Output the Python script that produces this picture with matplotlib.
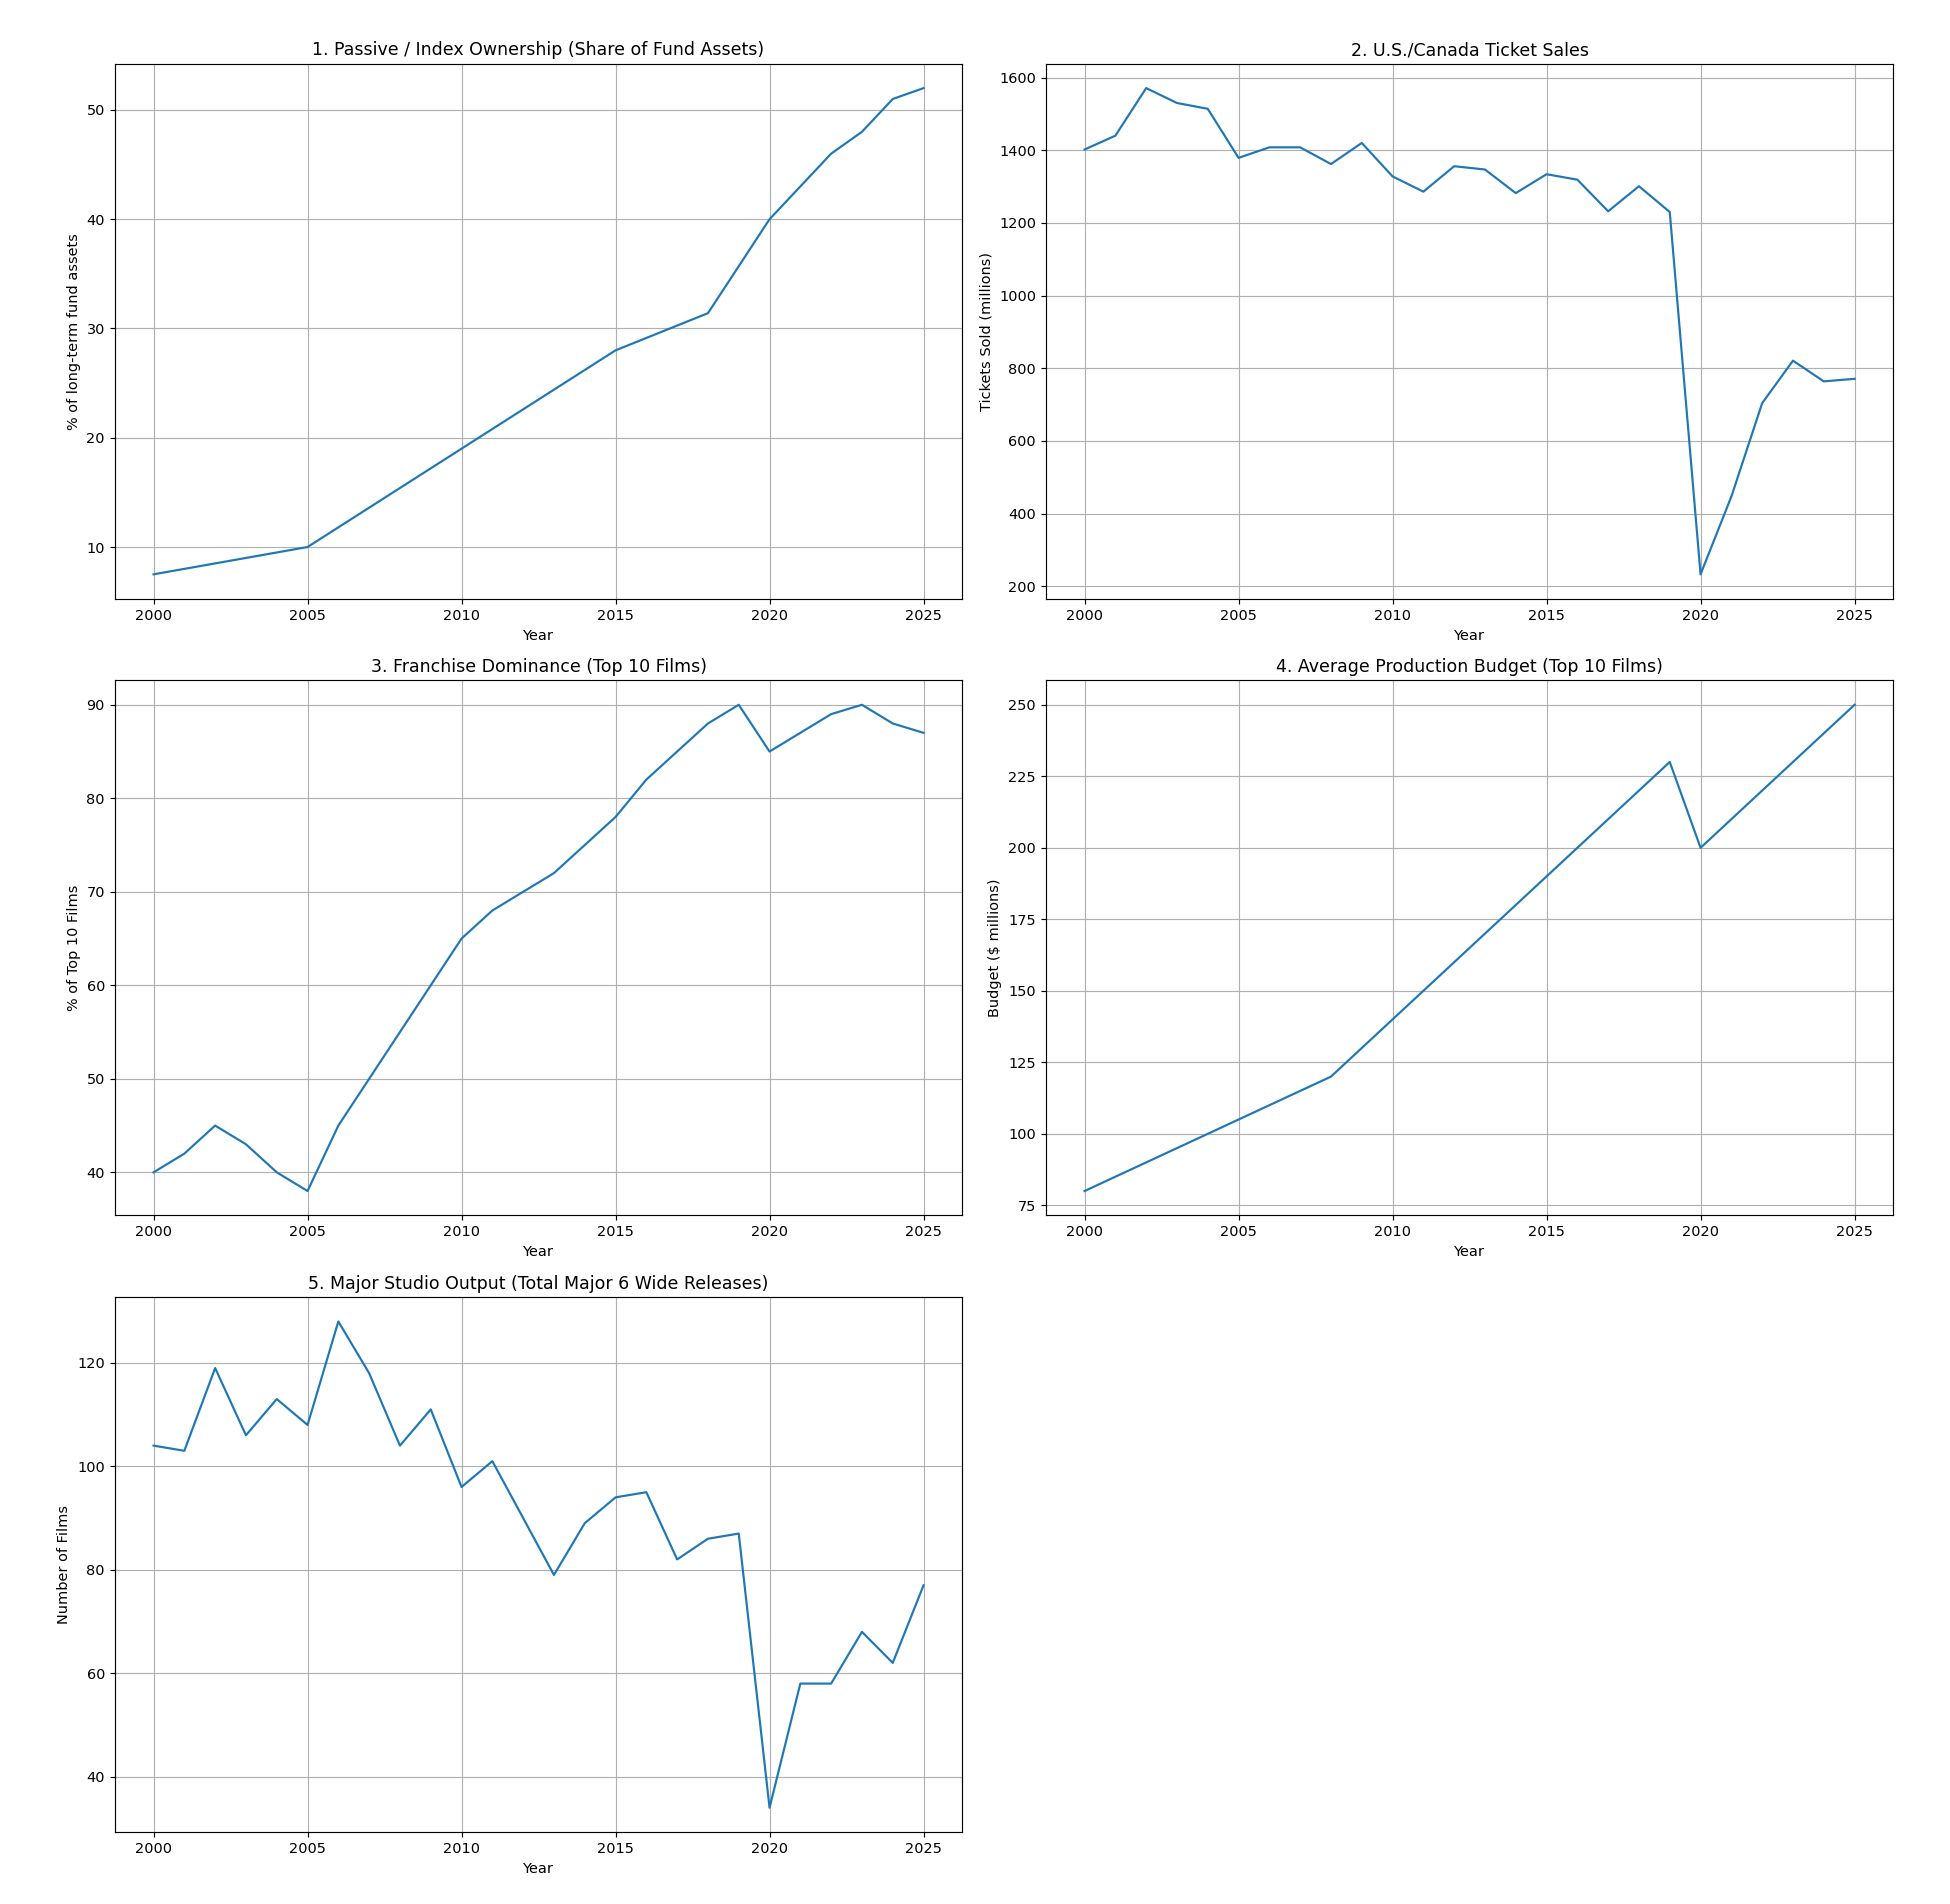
import numpy as np
import matplotlib
matplotlib.use("Agg")
import matplotlib.pyplot as plt

# 1. Passive / index share of long-term fund assets (%)
passive_years = [2000, 2005, 2010, 2015, 2018, 2020, 2022, 2023, 2024, 2025]
passive_share = [7.5, 10, 19, 28, 31.4, 40, 46, 48, 51, 52]

# 2. U.S./Canada tickets sold (millions)
ticket_years = list(range(2000, 2026))
tickets_sold = [1402, 1440, 1571, 1530, 1514, 1379, 1408, 1408, 1362, 1420,
                1328, 1286, 1356, 1347, 1282, 1334, 1319, 1232, 1301, 1230,
                233, 447, 704, 821, 764, 771]

# 3. Franchise share of top 10 films (%)
franchise_years = list(range(2000, 2026))
franchise_share = [40, 42, 45, 43, 40, 38, 45, 50, 55, 60,
                   65, 68, 70, 72, 75, 78, 82, 85, 88, 90,
                   85, 87, 89, 90, 88, 87]

# 4. Average production budget of top 10 films ($ millions)
budget_years = [2000, 2008, 2019, 2020, 2025]
avg_budget = [80, 120, 230, 200, 250]

# 5. Total wide releases from the major 6 studios
studio_years = list(range(2000, 2026))
studio_releases = [104, 103, 119, 106, 113, 108, 128, 118, 104, 111,
                   96, 101, 90, 79, 89, 94, 95, 82, 86, 87,
                   34, 58, 58, 68, 62, 77]

panels = [
    (passive_years, passive_share, "1. Passive / Index Ownership (Share of Fund Assets)",
     "% of long-term fund assets"),
    (ticket_years, tickets_sold, "2. U.S./Canada Ticket Sales", "Tickets Sold (millions)"),
    (franchise_years, franchise_share, "3. Franchise Dominance (Top 10 Films)", "% of Top 10 Films"),
    (budget_years, avg_budget, "4. Average Production Budget (Top 10 Films)", "Budget ($ millions)"),
    (studio_years, studio_releases, "5. Major Studio Output (Total Major 6 Wide Releases)",
     "Number of Films"),
]

dpi = 104
fig, axes = plt.subplots(3, 2, figsize=(1950 / dpi, 1904 / dpi), dpi=dpi)
fig.subplots_adjust(left=0.059, right=0.9708, top=0.9665, bottom=0.0378,
                    wspace=0.0992, hspace=0.153)

for ax, (x, y, title, ylabel) in zip(axes.flat, panels):
    ax.plot(x, y, color="#1f77b4", linewidth=1.5)
    ax.set_title(title, fontsize=12)
    ax.set_xlabel("Year")
    ax.set_ylabel(ylabel)
    ax.set_xticks([2000, 2005, 2010, 2015, 2020, 2025])
    ax.grid(True)

fig.delaxes(axes[2, 1])

fig.savefig("out.png", dpi=dpi)
